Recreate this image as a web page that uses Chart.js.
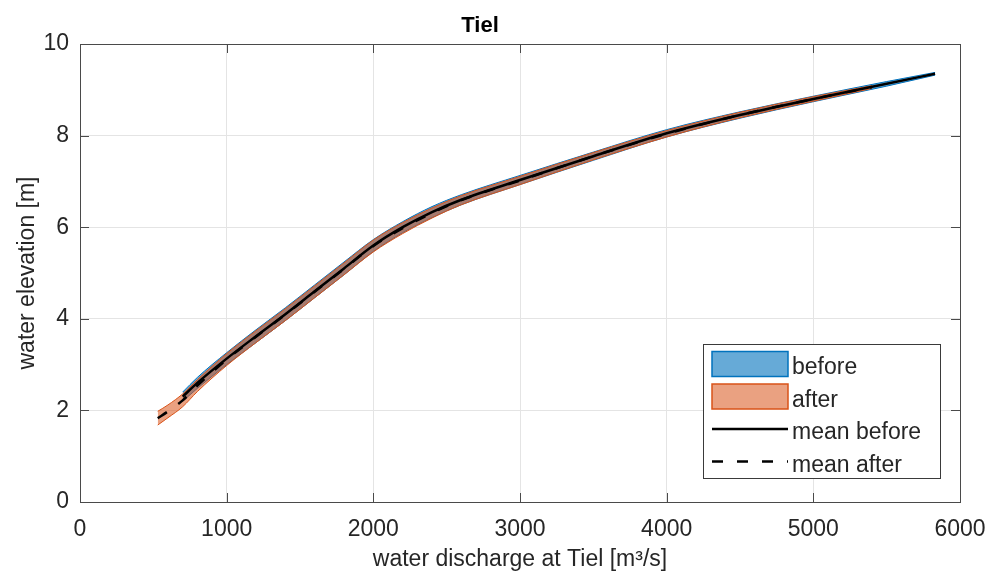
<!DOCTYPE html>
<html>
<head>
<meta charset="utf-8">
<script src="https://cdn.jsdelivr.net/npm/chart.js@4.4.1/dist/chart.umd.min.js"></script>
<style>
  html, body { margin: 0; padding: 0; background: #fff; }
</style>
</head>
<body>
<canvas id="ratingChart" width="996" height="587"></canvas>
<script>
// DATA
const beforeQ     = [700, 800, 1000, 1200, 1400, 1600, 1800, 2000, 2200, 2400, 2600, 3000, 3500, 4000, 4500, 5000, 5500, 5830];
const beforeMean  = [2.30, 2.60, 3.13, 3.62, 4.10, 4.60, 5.10, 5.60, 6.00, 6.33, 6.60, 7.03, 7.55, 8.05, 8.45, 8.80, 9.13, 9.35];
const beforeUpper = [2.40, 2.72, 3.26, 3.76, 4.24, 4.74, 5.24, 5.73, 6.12, 6.45, 6.71, 7.13, 7.64, 8.13, 8.52, 8.86, 9.18, 9.38];
const beforeLower = [2.20, 2.48, 3.00, 3.48, 3.96, 4.46, 4.96, 5.47, 5.88, 6.21, 6.49, 6.93, 7.46, 7.97, 8.38, 8.74, 9.08, 9.32];

const afterQ      = [530, 600, 700, 800, 1000, 1200, 1400, 1600, 1800, 2000, 2200, 2400, 2600, 3000, 3500, 4000, 4500, 5000, 5400];
const afterMean   = [1.83, 1.98, 2.22, 2.54, 3.11, 3.61, 4.09, 4.59, 5.09, 5.59, 5.98, 6.31, 6.59, 7.02, 7.55, 8.04, 8.45, 8.80, 9.06];
const afterUpper  = [1.98, 2.12, 2.36, 2.67, 3.24, 3.74, 4.22, 4.72, 5.22, 5.72, 6.10, 6.42, 6.69, 7.11, 7.63, 8.11, 8.51, 8.85, 9.09];
const afterLower  = [1.68, 1.84, 2.08, 2.41, 2.98, 3.48, 3.96, 4.46, 4.96, 5.46, 5.86, 6.20, 6.49, 6.93, 7.47, 7.97, 8.39, 8.75, 9.03];

const xTicks = [0, 1000, 2000, 3000, 4000, 5000, 6000];
const yTicks = [0, 2, 4, 6, 8, 10];

const FONT = "'Liberation Sans', Arial, sans-serif";
const AXIS_COLOR = '#4a4a4a';
const TEXT_COLOR = '#262626';

function pts(xs, ys) {
    return xs.map((x, i) => ({ x: x, y: ys[i] }));
}

// box around the axes + inward tick marks (matlab style)
const axesBox = {
    id: 'axesBox',
    afterDatasetsDraw(chart) {
        const { ctx, chartArea: a, scales } = chart;
        ctx.save();
        ctx.strokeStyle = AXIS_COLOR;
        ctx.lineWidth = 1;
        const tl = 9;
        ctx.beginPath();
        xTicks.forEach(v => {
            const px = Math.round(scales.x.getPixelForValue(v)) + 0.5;
            ctx.moveTo(px, a.bottom); ctx.lineTo(px, a.bottom - tl);
            ctx.moveTo(px, a.top); ctx.lineTo(px, a.top + tl);
        });
        yTicks.forEach(v => {
            const py = Math.round(scales.y.getPixelForValue(v)) + 0.5;
            ctx.moveTo(a.left, py); ctx.lineTo(a.left + tl, py);
            ctx.moveTo(a.right, py); ctx.lineTo(a.right - tl, py);
        });
        ctx.stroke();
        ctx.strokeRect(Math.round(a.left) + 0.5, Math.round(a.top) + 0.5,
            Math.round(a.right - a.left), Math.round(a.bottom - a.top));
        ctx.restore();
    }
};

// legend box in the lower right corner of the axes
const boxLegend = {
    id: 'boxLegend',
    afterDraw(chart) {
        const { ctx, chartArea: a } = chart;
        const items = chart.data.datasets.filter(d => d.legendKind);
        const w = 237, rowH = 32.5;
        const h = 134;
        const left = a.right - 20 - w;
        const top = a.bottom - 24 - h;
        ctx.save();
        ctx.fillStyle = '#fff';
        ctx.fillRect(left, top, w, h);
        ctx.strokeStyle = '#3a3a3a';
        ctx.lineWidth = 1;
        ctx.strokeRect(Math.round(left) + 0.5, Math.round(top) + 0.5, w, h);
        ctx.font = '23px ' + FONT;
        ctx.textBaseline = 'alphabetic';
        ctx.textAlign = 'left';
        items.forEach((d, i) => {
            const cy = top + 20 + i * rowH;
            const sx = left + 9, sw = 76;
            if (d.legendKind === 'fill') {
                ctx.fillStyle = d.backgroundColor;
                ctx.fillRect(sx, cy - 12.5, sw, 25);
                ctx.strokeStyle = d.borderColor;
                ctx.lineWidth = 1.5;
                ctx.strokeRect(sx, cy - 12.5, sw, 25);
            } else {
                ctx.strokeStyle = d.borderColor;
                ctx.lineWidth = d.borderWidth;
                ctx.setLineDash(d.borderDash || []);
                ctx.beginPath();
                ctx.moveTo(sx, cy); ctx.lineTo(sx + sw, cy);
                ctx.stroke();
                ctx.setLineDash([]);
            }
            ctx.fillStyle = TEXT_COLOR;
            ctx.fillText(d.label, sx + 80, cy + 10);
        });
        ctx.restore();
    }
};

const BLUE = 'rgb(0, 114, 189)';
const BLUE_FILL = 'rgba(0, 114, 189, 0.6)';
const ORANGE = 'rgb(217, 83, 25)';
const ORANGE_FILL = 'rgba(217, 83, 25, 0.55)';

window.onload = function () {
    const ctx = document.getElementById('ratingChart').getContext('2d');

    new Chart(ctx, {
        type: 'line',
        data: {
            datasets: [
                { label: 'before', legendKind: 'fill', data: pts(beforeQ, beforeUpper), fill: '+1',
                  borderColor: BLUE, backgroundColor: BLUE_FILL, borderWidth: 1, order: 4 },
                { label: 'before lower', data: pts(beforeQ, beforeLower), fill: false,
                  borderColor: BLUE, backgroundColor: BLUE_FILL, borderWidth: 1, order: 4 },
                { label: 'after', legendKind: 'fill', data: pts(afterQ, afterUpper), fill: '+1',
                  borderColor: ORANGE, backgroundColor: ORANGE_FILL, borderWidth: 1, order: 3 },
                { label: 'after lower', data: pts(afterQ, afterLower), fill: false,
                  borderColor: ORANGE, backgroundColor: ORANGE_FILL, borderWidth: 1, order: 3 },
                { label: 'mean before', legendKind: 'line', data: pts(beforeQ, beforeMean), fill: false,
                  borderColor: '#000', borderWidth: 2.5, order: 2 },
                { label: 'mean after', legendKind: 'line', data: pts(afterQ, afterMean), fill: false,
                  borderColor: '#000', borderWidth: 2.5, borderDash: [11, 14], order: 1 }
            ]
        },
        options: {
            responsive: false,
            animation: false,
            devicePixelRatio: 1,
            layout: { padding: { top: 0, right: 36, bottom: 0, left: 0 } },
            elements: {
                point: { radius: 0 },
                line: { cubicInterpolationMode: 'monotone' }
            },
            plugins: {
                legend: { display: false },
                tooltip: { enabled: false },
                title: {
                    display: true,
                    text: 'Tiel',
                    color: '#000',
                    font: { family: FONT, size: 22, weight: 'bold', lineHeight: '25px' },
                    padding: { top: 13, bottom: 6 }
                }
            },
            scales: {
                x: {
                    type: 'linear',
                    min: 0, max: 6000,
                    afterBuildTicks: s => { s.ticks = xTicks.map(v => ({ value: v })); },
                    afterFit: s => { s.height = 85; s.paddingLeft = 0; s.paddingRight = 0; },
                    grid: { color: '#e4e4e4', drawTicks: false },
                    border: { display: false },
                    ticks: { color: TEXT_COLOR, padding: 14, maxRotation: 0,
                             callback: v => String(v),
                             font: { family: FONT, size: 23 } },
                    title: { display: true, text: 'water discharge at Tiel [m³/s]', color: TEXT_COLOR,
                             font: { family: FONT, size: 23 }, padding: { top: 0, bottom: 14 } }
                },
                y: {
                    min: 0, max: 10,
                    afterBuildTicks: s => { s.ticks = yTicks.map(v => ({ value: v })); },
                    afterFit: s => { s.width = 80; s.paddingTop = 0; s.paddingBottom = 0; },
                    grid: { color: '#e4e4e4', drawTicks: false },
                    border: { display: false },
                    ticks: { color: TEXT_COLOR, padding: 11,
                             callback: v => String(v),
                             font: { family: FONT, size: 23 } },
                    title: { display: true, text: 'water elevation [m]', color: TEXT_COLOR,
                             font: { family: FONT, size: 23 }, padding: { top: 14, bottom: 0 } }
                }
            }
        },
        plugins: [axesBox, boxLegend]
    });
};
</script>
</body>
</html>
